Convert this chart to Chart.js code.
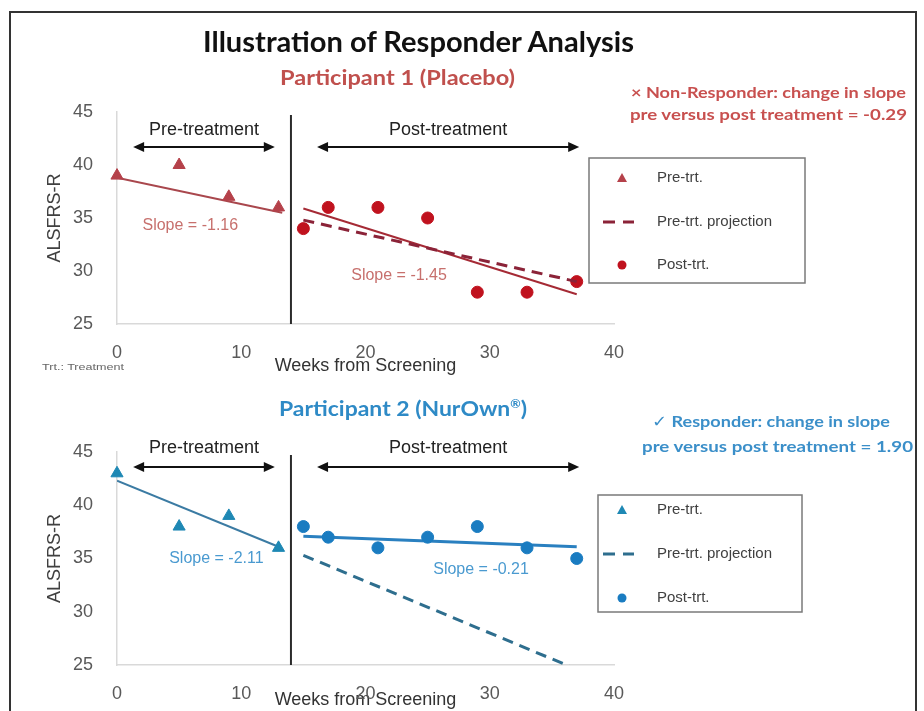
<!DOCTYPE html>
<html>
<head>
<meta charset="utf-8">
<script src="https://cdn.jsdelivr.net/npm/chart.js@4"></script>
<style>
body { margin: 0; background: #fff; width: 924px; height: 711px; overflow: hidden; position: relative; }
canvas { position: absolute; left: 0; top: 0; }
.frame { position: absolute; left: 9px; top: 11px; width: 908px; height: 720px; border: 2px solid #333; border-bottom: none; box-sizing: border-box; }
.t { position: absolute; white-space: nowrap; font-family: Lato, 'Open Sans', 'DejaVu Sans', sans-serif; font-weight: bold; line-height: 1; transform-origin: 0 50%; }
.t sup { font-size: 55%; line-height: 0; }
</style>
</head>
<body>
<div class="frame"></div>
<canvas id="c1" width="924" height="711"></canvas>
<canvas id="c2" width="924" height="711"></canvas>

<div class="t" data-w="431" style="left:203px;top:27px;font-size:28px;color:#111">Illustration of Responder Analysis</div>
<div class="t" data-w="235" style="left:280px;top:67px;font-size:20px;color:#c0504d">Participant 1 (Placebo)</div>
<div class="t" data-w="275" style="left:631px;top:85px;font-size:15px;color:#c8504f">× Non-Responder: change in slope</div>
<div class="t" data-w="277" style="left:630px;top:107px;font-size:15px;color:#c8504f">pre versus post treatment = -0.29</div>
<div class="t" data-w="248" style="left:279px;top:398px;font-size:20px;color:#2e8ac6">Participant 2 (NurOwn<sup>®</sup>)</div>
<div class="t" data-w="238" style="left:652px;top:413px;font-size:16px;color:#3b8fc9">✓ Responder: change in slope</div>
<div class="t" data-w="271" style="left:642px;top:438px;font-size:16px;color:#3b8fc9">pre versus post treatment = 1.90</div>
<div class="t" data-w="82" style="left:42px;top:363px;font-size:9px;font-weight:normal;font-family:'Liberation Sans',Arial,sans-serif;color:#666">Trt.: Treatment</div>

<script>
// Participant 1 (Placebo)
var weeksPre1 = [0, 5, 9, 13];
var scorePre1 = [39, 40, 37, 36];
var weeksPost1 = [15, 17, 21, 25, 29, 33, 37];
var scorePost1 = [34, 36, 36, 35, 28, 28, 29];
var preFitX1 = [0, 13.3];
var preFitY1 = [38.8, 35.5];
var projX1 = [15, 37];
var projY1 = [34.8, 29.0];
var postFitX1 = [15, 37];
var postFitY1 = [35.9, 27.8];

// Participant 2 (NurOwn)
var weeksPre2 = [0, 5, 9, 13];
var scorePre2 = [43, 38, 39, 36];
var weeksPost2 = [15, 17, 21, 25, 29, 33, 37];
var scorePost2 = [38, 37, 36, 37, 38, 36, 35];
var preFitX2 = [0, 13];
var preFitY2 = [42.3, 36.1];
var projX2 = [15, 37];
var projY2 = [35.3, 24.6];
var postFitX2 = [15, 37];
var postFitY2 = [37.1, 36.1];

var weekTicks = [0, 10, 20, 30, 40];
var scoreTicks = [25, 30, 35, 40, 45];
var treatWeek = 14;
var preSpan = [1.3, 12.7];
var postSpan = [16.1, 37.2];
var legendNames = ['Pre-trt.', 'Pre-trt. projection', 'Post-trt.'];

Chart.defaults.font.family = "'Liberation Sans', Arial, sans-serif";

function pts(xs, ys) {
  return xs.map(function (x, i) { return { x: x, y: ys[i] }; });
}

function arrow(ctx, x1, x2, y) {
  ctx.beginPath();
  ctx.moveTo(x1 + 8, y);
  ctx.lineTo(x2 - 8, y);
  ctx.stroke();
  [[x1, 1], [x2, -1]].forEach(function (a) {
    ctx.beginPath();
    ctx.moveTo(a[0], y);
    ctx.lineTo(a[0] + a[1] * 11, y - 5);
    ctx.lineTo(a[0] + a[1] * 11, y + 5);
    ctx.closePath();
    ctx.fill();
  });
}

var responderPlugin = {
  id: 'responder',
  beforeDatasetsDraw: function (chart, args, o) {
    var ctx = chart.ctx, area = chart.chartArea;
    var x = chart.scales.x, y = chart.scales.y;
    ctx.save();
    // treatment start
    var vx = x.getPixelForValue(treatWeek);
    ctx.strokeStyle = '#2b2b2b';
    ctx.lineWidth = 2;
    ctx.beginPath();
    ctx.moveTo(vx, area.top + 3);
    ctx.lineTo(vx, area.bottom);
    ctx.stroke();

    // period arrows
    ctx.fillStyle = '#111';
    ctx.strokeStyle = '#111';
    ctx.lineWidth = 2;
    var ay = area.top + o.arrowY;
    arrow(ctx, x.getPixelForValue(preSpan[0]), x.getPixelForValue(preSpan[1]), ay);
    arrow(ctx, x.getPixelForValue(postSpan[0]), x.getPixelForValue(postSpan[1]), ay);
    ctx.font = '18px "Liberation Sans", Arial, sans-serif';
    ctx.fillStyle = '#222';
    ctx.textAlign = 'center';
    ctx.textBaseline = 'middle';
    ctx.fillText('Pre-treatment', x.getPixelForValue((preSpan[0] + preSpan[1]) / 2), ay - o.textGap);
    ctx.fillText('Post-treatment', x.getPixelForValue((postSpan[0] + postSpan[1]) / 2), ay - o.textGap);

    // slope labels
    ctx.font = '16px "Liberation Sans", Arial, sans-serif';
    ctx.fillStyle = o.slopeColor;
    o.slopes.forEach(function (s) {
      ctx.fillText(s.text, x.getPixelForValue(s.x), y.getPixelForValue(s.y));
    });
    ctx.restore();
  },
  afterDraw: function (chart, args, o) {
    var ctx = chart.ctx, b = o.box;
    var ds = chart.data.datasets;
    ctx.save();
    ctx.strokeStyle = '#7a7a7a';
    ctx.lineWidth = 1.5;
    ctx.strokeRect(b[0], b[1], b[2] - b[0], b[3] - b[1]);
    ctx.font = '15px "Liberation Sans", Arial, sans-serif';
    ctx.textAlign = 'left';
    ctx.textBaseline = 'middle';
    [0, 2, 3].forEach(function (di, row) {
      var d = ds[di], ry = o.rows[row], mx = 622;
      ctx.fillStyle = d.backgroundColor || d.borderColor;
      ctx.strokeStyle = d.borderColor;
      if (d.pointStyle === 'triangle') {
        ctx.beginPath();
        ctx.moveTo(mx, ry - 5);
        ctx.lineTo(mx + 5, ry + 4);
        ctx.lineTo(mx - 5, ry + 4);
        ctx.closePath();
        ctx.fill();
      } else if (d.borderDash) {
        ctx.lineWidth = 3;
        ctx.beginPath();
        ctx.moveTo(mx - 19, ry); ctx.lineTo(mx - 7, ry);
        ctx.moveTo(mx + 1, ry); ctx.lineTo(mx + 12, ry);
        ctx.stroke();
      } else {
        ctx.beginPath();
        ctx.arc(mx, ry, 4.5, 0, Math.PI * 2);
        ctx.fill();
      }
      ctx.fillStyle = '#404040';
      ctx.fillText(legendNames[row], 657, ry);
    });
    ctx.restore();
  }
};

function makeChart(id, d) {
  return new Chart(document.getElementById(id), {
    type: 'scatter',
    data: {
      datasets: [
        { data: pts(d.preX, d.preY), pointStyle: 'triangle', pointRadius: 7, backgroundColor: d.c[0], borderColor: d.c[0], clip: false },
        { data: pts(d.preFitX, d.preFitY), showLine: true, pointRadius: 0, borderColor: d.c[1], borderWidth: 2 },
        { data: pts(d.projX, d.projY), showLine: true, pointRadius: 0, borderColor: d.c[2], borderWidth: 3, borderDash: [11, 7] },
        { data: pts(d.postX, d.postY), pointStyle: 'circle', pointRadius: 6, backgroundColor: d.c[3], borderColor: d.c[3], clip: false },
        { data: pts(d.postFitX, d.postFitY), showLine: true, pointRadius: 0, borderColor: d.c[4], borderWidth: d.postWidth }
      ]
    },
    options: {
      responsive: false,
      animation: false,
      events: [],
      layout: { padding: { top: d.top, bottom: d.bottom, left: 0, right: 310 } },
      scales: {
        x: {
          type: 'linear', min: weekTicks[0], max: weekTicks[weekTicks.length - 1],
          afterBuildTicks: function (s) { s.ticks = weekTicks.map(function (v) { return { value: v }; }); },
          ticks: { padding: 10, color: '#595959', font: { size: 18 } },
          grid: { display: false },
          border: { color: '#d9d9d9', width: 1.5 },
          title: { display: true, text: 'Weeks from Screening', color: '#333', font: { size: 18 }, padding: { top: 0, bottom: d.xTitlePad } },
          afterFit: function (s) { s.height = d.xHeight; }
        },
        y: {
          min: scoreTicks[0], max: scoreTicks[scoreTicks.length - 1],
          afterBuildTicks: function (s) { s.ticks = scoreTicks.map(function (v) { return { value: v }; }); },
          ticks: { padding: 16, color: '#595959', font: { size: 18 } },
          grid: { display: false },
          border: { color: '#d9d9d9', width: 1.5 },
          title: { display: true, text: 'ALSFRS-R', color: '#404040', font: { size: 18 }, padding: { top: 44, bottom: 0 } },
          afterFit: function (s) { s.width = 117; }
        }
      },
      plugins: {
        legend: { display: false },
        tooltip: { enabled: false },
        responder: { arrowY: d.arrowY, textGap: d.textGap, slopeColor: d.slopeColor, slopes: d.slopes, box: d.box, rows: d.rows }
      }
    },
    plugins: [responderPlugin]
  });
}

makeChart('c1', {
  preX: weeksPre1, preY: scorePre1, preFitX: preFitX1, preFitY: preFitY1,
  projX: projX1, projY: projY1, postX: weeksPost1, postY: scorePost1,
  postFitX: postFitX1, postFitY: postFitY1,
  c: ['#b5414a', '#a9474d', '#8b2338', '#c0121e', '#a52a35'], postWidth: 2,
  top: 112, bottom: 327, xHeight: 60, xTitlePad: 7,
  arrowY: 35, textGap: 17, slopeColor: '#c7706d',
  slopes: [{ x: 5.9, y: 34.3, text: 'Slope = -1.16' }, { x: 22.7, y: 29.6, text: 'Slope = -1.45' }],
  box: [589, 158, 805, 283], rows: [178, 222, 265]
});

makeChart('c2', {
  preX: weeksPre2, preY: scorePre2, preFitX: preFitX2, preFitY: preFitY2,
  projX: projX2, projY: projY2, postX: weeksPost2, postY: scorePost2,
  postFitX: postFitX2, postFitY: postFitY2,
  c: ['#1e88b4', '#3b7ba3', '#2e6e8e', '#1a7cc1', '#2a80c0'], postWidth: 3,
  top: 452, bottom: 0, xHeight: 46, xTitlePad: 0,
  arrowY: 15, textGap: 19, slopeColor: '#4a9ad0',
  slopes: [{ x: 8.0, y: 34.95, text: 'Slope = -2.11' }, { x: 29.3, y: 34.0, text: 'Slope = -0.21' }],
  box: [598, 495, 802, 612], rows: [510, 554, 598]
});

document.querySelectorAll('.t').forEach(function (el) {
  var w = el.getBoundingClientRect().width;
  el.style.transform = 'scaleX(' + (+el.dataset.w / w) + ')';
});
</script>
</body>
</html>
